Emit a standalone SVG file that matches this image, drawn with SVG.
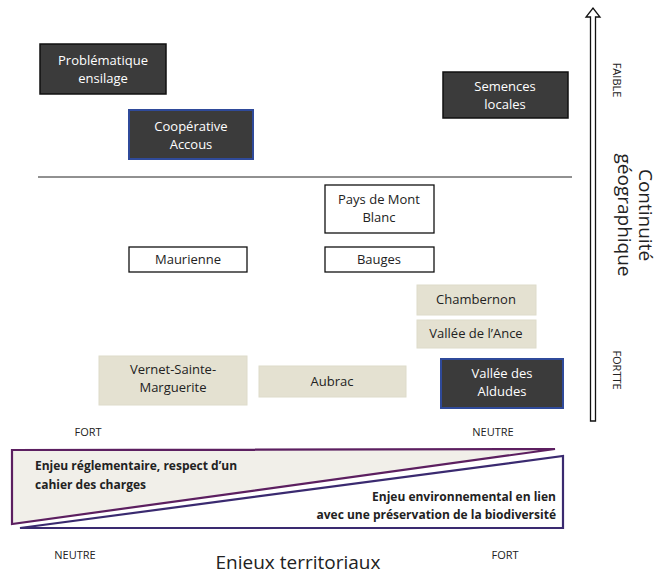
<svg xmlns="http://www.w3.org/2000/svg" width="659" height="569" viewBox="0 0 659 569">
<style>
text{font-family:"Open Sans","Liberation Sans",sans-serif;font-size:13px;text-anchor:middle;fill:#222}
.dark{fill:#3b3b3b;stroke:#111;stroke-width:1.5}
.darkb{fill:#3b3b3b;stroke:#2f4a9a;stroke-width:2}
.white{fill:#fff;stroke:#111;stroke-width:1.3}
.beige{fill:#e4e1d1;stroke:#dedbca;stroke-width:1}
.lt{fill:#fff}
.sm{font-size:11px}
.big{font-size:19px}
.b{font-weight:bold;font-size:12px;text-anchor:start}
.r{text-anchor:end}
</style>
<rect width="659" height="569" fill="#fff"/>
<g id="connectors">
<line x1="38" y1="177" x2="572" y2="177" stroke="#222" stroke-width="1"/>
<path d="M590.5,421 V17 H586 L593,8 L600,17 H595.5 V421 Z" fill="#fff" stroke="#111" stroke-width="1.3"/>
</g>
<g id="n-problematique"><rect class="dark" x="40" y="44" width="126" height="50"/><text class="lt" x="103" y="65">Problématique</text><text class="lt" x="103" y="83">ensilage</text></g>
<g id="n-cooperative"><rect class="darkb" x="129" y="110" width="124" height="49"/><text class="lt" x="191" y="131">Coopérative</text><text class="lt" x="191" y="149">Accous</text></g>
<g id="n-semences"><rect class="dark" x="443" y="72" width="125" height="46"/><text class="lt" x="505" y="91">Semences</text><text class="lt" x="505" y="109">locales</text></g>
<g id="n-montblanc"><rect class="white" x="325" y="185" width="109" height="48"/><text x="379" y="204">Pays de Mont</text><text x="379" y="222">Blanc</text></g>
<g id="n-maurienne"><rect class="white" x="129" y="247" width="118" height="25"/><text x="188" y="264">Maurienne</text></g>
<g id="n-bauges"><rect class="white" x="325" y="247" width="109" height="25"/><text x="379" y="264">Bauges</text></g>
<g id="n-chambernon"><rect class="beige" x="417" y="285" width="119" height="30"/><text x="476" y="304">Chambernon</text></g>
<g id="n-ance"><rect class="beige" x="417" y="320" width="119" height="28"/><text x="476" y="338">Vallée de l’Ance</text></g>
<g id="n-aldudes"><rect class="darkb" x="441" y="359" width="122" height="49"/><text class="lt" x="502" y="378">Vallée des</text><text class="lt" x="502" y="396">Aldudes</text></g>
<g id="n-vernet"><rect class="beige" x="99" y="356" width="148" height="49"/><text x="173" y="374">Vernet-Sainte-</text><text x="173" y="392">Marguerite</text></g>
<g id="n-aubrac"><rect class="beige" x="259" y="366" width="147" height="31"/><text x="332" y="386">Aubrac</text></g>
<g id="axis-y">
<text class="sm" transform="translate(613,80) rotate(90)">FAIBLE</text>
<text class="sm" transform="translate(613,370) rotate(90)">FORTTE</text>
<text class="big" transform="translate(639,215) rotate(90)">Continuité</text>
<text class="big" transform="translate(618,215) rotate(90)">géographique</text>
</g>
<g id="axis-x">
<text class="sm" x="88" y="436">FORT</text>
<text class="sm" x="493" y="436">NEUTRE</text>
<polygon points="12,450 555,449 12,524" fill="#f1efe9" stroke="#5c1f60" stroke-width="2.2"/>
<polygon points="20,528 563,456 563,528" fill="#fff" stroke="#3a2a70" stroke-width="2.2"/>
<text class="b" x="35" y="470">Enjeu réglementaire, respect d’un</text>
<text class="b" x="35" y="489">cahier des charges</text>
<text class="b r" x="556" y="501">Enjeu environnemental en lien</text>
<text class="b r" x="556" y="519">avec une préservation de la biodiversité</text>
<text class="sm" x="75" y="559">NEUTRE</text>
<text class="sm" x="505" y="559">FORT</text>
<text class="big" x="298" y="569">Enjeux territoriaux</text>
</g>
</svg>
